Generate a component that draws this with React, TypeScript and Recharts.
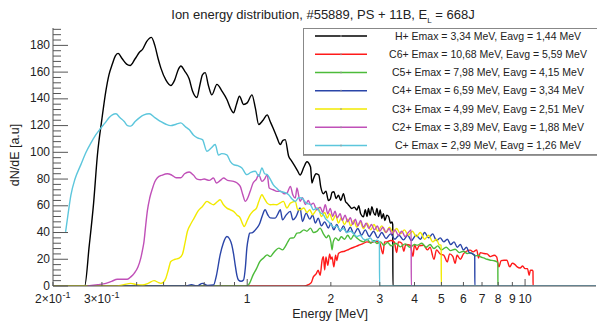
import React from "react";
import { LineChart, Line, XAxis, YAxis, Legend } from "recharts";

const FONT = '"Liberation Sans", Arial, Helvetica, sans-serif';

type Pt = [number, number];

// energy [MeV], dN/dE [a.u]
const hPlus: Pt[] = [
  [0.2, 0], [0.26, 0], [0.27, 30], [0.28, 62], [0.289, 98], [0.3, 125], [0.31, 146], [0.318, 158],
  [0.327, 166], [0.335, 172], [0.343, 174], [0.355, 170], [0.368, 166], [0.379, 165], [0.395, 170],
  [0.41, 175], [0.42, 177], [0.435, 183], [0.452, 186], [0.465, 180], [0.478, 170], [0.489, 163],
  [0.51, 154], [0.531, 150], [0.548, 154], [0.565, 162], [0.577, 164.6], [0.595, 161], [0.618, 155],
  [0.635, 146], [0.659, 141], [0.675, 150], [0.69, 158], [0.706, 159.6], [0.725, 150], [0.746, 143],
  [0.778, 150.8], [0.811, 145.8], [0.845, 139.5], [0.87, 133], [0.893, 129.6], [0.915, 136], [0.938, 142],
  [0.97, 135.8], [1.0, 137], [1.04, 143], [1.07, 133], [1.1, 120.8], [1.14, 124], [1.18, 128], [1.21, 123],
  [1.24, 118], [1.28, 111], [1.315, 105.8], [1.345, 109], [1.37, 109.5], [1.41, 97], [1.44, 94], [1.48, 90],
  [1.52, 86], [1.55, 83], [1.6, 89], [1.64, 93], [1.69, 89], [1.71, 77], [1.73, 80], [1.77, 84], [1.81, 83],
  [1.84, 74], [1.88, 69], [1.92, 71], [1.96, 64], [1.99, 65], [2.02, 70], [2.05, 70.5], [2.09, 65.5],
  [2.13, 68], [2.17, 64], [2.22, 69], [2.26, 63], [2.29, 61.8], [2.33, 60], [2.38, 58], [2.43, 59],
  [2.48, 56.8], [2.52, 60], [2.56, 54], [2.62, 51.8], [2.66, 57], [2.7, 52], [2.73, 58], [2.77, 53],
  [2.81, 59.3], [2.85, 55], [2.89, 53], [2.93, 58], [2.97, 52], [3.01, 56.8], [3.05, 50.5], [3.09, 54],
  [3.13, 49], [3.18, 53], [3.23, 51.8], [3.28, 47], [3.32, 48], [3.34, 46], [3.345, 0], [18, 0],
];

const c6Plus: Pt[] = [
  [0.2, 0], [1.6, 0], [1.66, 1], [1.7, 2.5], [1.73, 6.8], [1.77, 9], [1.8, 11.8], [1.83, 8], [1.86, 19.3],
  [1.88, 22], [1.9, 12], [1.92, 21.8], [1.95, 15.5], [1.98, 24], [2.0, 20], [2.02, 21.8], [2.05, 14.3],
  [2.08, 23], [2.1, 19], [2.13, 24.3], [2.18, 25.5], [2.24, 26], [2.3, 27], [2.35, 28], [2.42, 29],
  [2.52, 30.5], [2.6, 31.5], [2.7, 33], [2.8, 32.5], [2.9, 33.5], [3.0, 32], [3.08, 24], [3.12, 33],
  [3.18, 33], [3.28, 34], [3.38, 33], [3.45, 25], [3.5, 33], [3.6, 32], [3.66, 26], [3.72, 31], [3.86, 30.5],
  [3.95, 22], [4.0, 31], [4.08, 27], [4.15, 30], [4.32, 30.5], [4.45, 27], [4.55, 29], [4.7, 20], [4.8, 27],
  [4.95, 24], [5.1, 23], [5.25, 18], [5.35, 24], [5.5, 22], [5.6, 17], [5.69, 23], [5.85, 20], [6.0, 24],
  [6.15, 26], [6.35, 26.8], [6.5, 25.5], [6.7, 27], [6.8, 21], [6.9, 25], [7.11, 24.3], [7.3, 24], [7.5, 22],
  [7.74, 23], [7.9, 21.8], [8.05, 14.3], [8.2, 19], [8.4, 19.3], [8.6, 19.3], [8.8, 14.3], [9.0, 17],
  [9.2, 16], [9.37, 14.3], [9.6, 13.5], [9.8, 15], [10.0, 13], [10.2, 13], [10.35, 8], [10.45, 11.8],
  [10.6, 11.8], [10.68, 11], [10.685, 0], [18, 0],
];

const c5Plus: Pt[] = [
  [0.2, 0], [1.0, 0], [1.025, 3], [1.05, 8.3], [1.08, 13], [1.11, 18.3], [1.145, 21], [1.18, 23.3],
  [1.21, 22], [1.24, 24.5], [1.27, 27], [1.3, 28.3], [1.34, 27], [1.37, 29.5], [1.4, 33], [1.43, 35.8],
  [1.47, 36], [1.51, 39.5], [1.55, 40], [1.6, 42], [1.64, 41], [1.69, 43.3], [1.73, 40], [1.78, 40.8],
  [1.83, 43.3], [1.88, 39], [1.93, 36], [1.96, 38], [2.0, 33], [2.02, 27], [2.04, 33], [2.08, 36],
  [2.13, 34], [2.18, 36.8], [2.24, 35], [2.3, 38], [2.36, 35], [2.42, 38], [2.48, 36], [2.55, 34],
  [2.62, 33], [2.7, 35], [2.78, 32], [2.86, 34], [2.93, 31.8], [3.02, 33], [3.1, 30.5], [3.2, 32.5],
  [3.3, 30], [3.42, 32], [3.56, 29.3], [3.7, 31.5], [3.85, 29], [4.0, 31], [4.09, 30.5], [4.25, 32],
  [4.4, 29], [4.55, 31], [4.7, 28], [4.85, 30], [5.0, 27], [5.2, 29], [5.39, 26.5], [5.6, 27.5],
  [5.8, 25], [6.0, 26], [6.19, 24.3], [6.4, 24.8], [6.6, 22.5], [6.8, 23], [6.92, 21.8], [7.1, 21],
  [7.3, 20], [7.5, 19.3], [7.7, 19], [7.93, 18], [7.98, 17], [7.985, 0], [18, 0],
];

const c4Plus: Pt[] = [
  [0.2, 0], [0.6, 0], [0.63, 1], [0.66, 0], [0.69, 2], [0.72, 0.5], [0.756, 0.7], [0.775, 8], [0.799, 23.3],
  [0.82, 32], [0.845, 37], [0.865, 35], [0.88, 30.8], [0.893, 24], [0.905, 15.8], [0.918, 8], [0.93, 4.5],
  [0.95, 3.5], [0.97, 4.5], [0.985, 14], [0.997, 28.3], [1.01, 36], [1.02, 39.5], [1.045, 40], [1.07, 42],
  [1.09, 44], [1.11, 47], [1.135, 53], [1.16, 57], [1.185, 53.3], [1.21, 51], [1.26, 50.8], [1.29, 54],
  [1.315, 57], [1.34, 49.5], [1.38, 53], [1.43, 55.8], [1.46, 49.5], [1.5, 52], [1.55, 58.3], [1.58, 48.3],
  [1.63, 54.5], [1.68, 50], [1.72, 53], [1.76, 47], [1.8, 50.8], [1.85, 45], [1.9, 48], [1.96, 43.3],
  [2.0, 47], [2.05, 42], [2.1, 46], [2.16, 41], [2.22, 45], [2.28, 40], [2.35, 44], [2.42, 39], [2.5, 43],
  [2.58, 38], [2.66, 42], [2.75, 37], [2.85, 41], [2.95, 36], [3.05, 40], [3.16, 35.5], [3.28, 39],
  [3.4, 35], [3.52, 38], [3.65, 34.5], [3.78, 38], [3.9, 34], [4.05, 38], [4.2, 35], [4.35, 40], [4.5, 36],
  [4.65, 39], [4.8, 34], [4.95, 36], [5.1, 33], [5.25, 35], [5.4, 31], [5.55, 33], [5.7, 29], [5.85, 31],
  [6.0, 27], [6.15, 29], [6.3, 25], [6.45, 24.3], [6.59, 23], [6.595, 0], [18, 0],
];

const c3Plus: Pt[] = [
  [0.2, 0], [0.34, 0], [0.36, 1], [0.381, 2], [0.4, 1], [0.42, 0.7], [0.44, 2], [0.462, 4], [0.48, 2.5],
  [0.489, 2], [0.5, 3], [0.51, 6], [0.52, 12], [0.531, 18.3], [0.55, 20], [0.569, 20.8], [0.585, 24],
  [0.597, 32], [0.609, 40.8], [0.625, 46], [0.644, 50.8], [0.665, 56], [0.69, 59.5], [0.716, 63.3],
  [0.735, 62], [0.756, 60.8], [0.78, 63], [0.799, 64.5], [0.82, 61], [0.845, 58.3], [0.87, 57],
  [0.893, 55.8], [0.92, 53], [0.944, 50.8], [0.96, 47], [0.975, 44.5], [1.0, 49], [1.025, 53.3],
  [1.05, 56], [1.08, 58.3], [1.1, 63], [1.13, 68.3], [1.15, 65.8], [1.18, 62], [1.21, 60.8], [1.24, 61],
  [1.28, 60.8], [1.31, 62], [1.35, 63.3], [1.39, 58.3], [1.43, 62], [1.49, 63.3], [1.52, 57], [1.55, 57],
  [1.6, 58.3], [1.64, 55], [1.68, 57], [1.72, 53.3], [1.76, 56], [1.8, 58.3], [1.85, 52], [1.9, 55],
  [1.94, 50.8], [1.98, 54], [2.03, 49], [2.08, 53], [2.13, 47], [2.18, 51], [2.24, 46], [2.3, 50],
  [2.36, 45], [2.42, 49], [2.48, 44], [2.55, 48], [2.62, 43], [2.7, 47], [2.78, 42], [2.86, 46],
  [2.95, 41], [3.05, 45], [3.15, 40], [3.25, 44], [3.35, 40], [3.45, 43], [3.56, 39], [3.68, 42],
  [3.8, 38], [3.93, 41], [4.06, 37], [4.2, 40], [4.35, 35], [4.5, 38], [4.65, 33], [4.8, 35], [4.9, 31],
  [4.99, 30.5], [4.995, 0], [18, 0],
];

const c2Plus: Pt[] = [
  [0.266, 0], [0.29, 1], [0.31, 2], [0.325, 3.5], [0.341, 5], [0.355, 5], [0.37, 5], [0.382, 7],
  [0.392, 9.5], [0.404, 14], [0.414, 20.8], [0.42, 27], [0.425, 33], [0.431, 45], [0.437, 56], [0.446, 66],
  [0.456, 73], [0.465, 78], [0.475, 81], [0.495, 83], [0.516, 84], [0.535, 83], [0.555, 81], [0.577, 81],
  [0.595, 84], [0.618, 85.3], [0.64, 83], [0.66, 80], [0.681, 79.5], [0.7, 80], [0.73, 79], [0.756, 80.8],
  [0.775, 77], [0.8, 79], [0.822, 80.8], [0.85, 79], [0.893, 78.3], [0.92, 77], [0.944, 74.5], [0.965, 68],
  [0.984, 63.3], [1.005, 66], [1.025, 70.8], [1.05, 77], [1.08, 80], [1.1, 83.3], [1.13, 78.3], [1.155, 80],
  [1.18, 83.3], [1.2, 73.3], [1.24, 72], [1.28, 70.8], [1.32, 71], [1.36, 69], [1.39, 69.5], [1.43, 74.5],
  [1.46, 68], [1.49, 65.8], [1.51, 73.3], [1.55, 63.3], [1.58, 66], [1.62, 61], [1.66, 64], [1.69, 60.8],
  [1.73, 62], [1.78, 57], [1.83, 59], [1.87, 55], [1.91, 60.8], [1.95, 54], [1.99, 58], [2.03, 52],
  [2.07, 56], [2.11, 51], [2.16, 54], [2.2, 49], [2.25, 53], [2.3, 48], [2.35, 51], [2.4, 46], [2.45, 50],
  [2.5, 45], [2.56, 49], [2.62, 44], [2.68, 47], [2.74, 43], [2.8, 46], [2.87, 42], [2.94, 45], [3.0, 41],
  [3.08, 44], [3.16, 40], [3.24, 43], [3.32, 39], [3.4, 42], [3.5, 38], [3.6, 41], [3.7, 37], [3.8, 40],
  [3.89, 42], [3.895, 0], [18, 0],
];

const cPlus: Pt[] = [
  [0.222, 40.5], [0.227, 55], [0.232, 68], [0.24, 80], [0.252, 90.8], [0.263, 100], [0.274, 107],
  [0.285, 113], [0.297, 118], [0.308, 122], [0.318, 125.8], [0.327, 128], [0.337, 128.8], [0.348, 126],
  [0.361, 123], [0.371, 120], [0.381, 119.6], [0.395, 123], [0.409, 125.8], [0.425, 128], [0.444, 128.8],
  [0.465, 126], [0.489, 123], [0.51, 121], [0.531, 120], [0.555, 121], [0.577, 122], [0.6, 119],
  [0.618, 117], [0.64, 113], [0.662, 110.8], [0.69, 109.5], [0.716, 100.8], [0.74, 103], [0.767, 105.8],
  [0.788, 98], [0.81, 99], [0.845, 98], [0.87, 93], [0.893, 90.8], [0.925, 90], [0.957, 88.3],
  [0.997, 83.3], [1.03, 85], [1.07, 85.8], [1.1, 82], [1.13, 88.3], [1.155, 84], [1.18, 83.3], [1.21, 80],
  [1.24, 75.8], [1.28, 73], [1.315, 70.8], [1.36, 70], [1.41, 68.3], [1.45, 65], [1.49, 63.3], [1.53, 66],
  [1.57, 65.8], [1.63, 62], [1.69, 60.8], [1.73, 57], [1.78, 58.3], [1.83, 55], [1.88, 53.3], [1.92, 50],
  [1.96, 48.3], [2.0, 46], [2.05, 44], [2.1, 45], [2.16, 41.8], [2.22, 43], [2.28, 40], [2.35, 41],
  [2.41, 39.3], [2.48, 37], [2.55, 38], [2.62, 35], [2.7, 34.3], [2.77, 36], [2.85, 33], [2.93, 34.3],
  [2.99, 33], [2.995, 0], [18, 0],
];

const seriesNames = [
  "H+ Emax = 3,34 MeV, Eavg = 1,44 MeV",
  "C6+ Emax = 10,68 MeV, Eavg = 5,59 MeV",
  "C5+ Emax = 7,98 MeV, Eavg = 4,15 MeV",
  "C4+ Emax = 6,59 MeV, Eavg = 3,34 MeV",
  "C3+ Emax = 4,99 MeV, Eavg = 2,51 MeV",
  "C2+ Emax = 3,89 MeV, Eavg = 1,88 MeV",
  "C+ Emax = 2,99 MeV, Eavg = 1,26 MeV",
];
const seriesData = [hPlus, c6Plus, c5Plus, c4Plus, c3Plus, c2Plus, cPlus];
const seriesColors = ["#000000", "#ff1a1a", "#4cbb3a", "#2a45a8", "#f2ea00", "#c050b8", "#5cc6dc"];

const xTicks = [0.2, 0.3, 0.4, 0.5, 0.6, 0.7, 0.8, 0.9, 1, 2, 3, 4, 5, 6, 7, 8, 9, 10];
const xTickLabels = ["2×10^-1", "3×10^-1", "", "", "", "", "", "", "1", "2", "3", "4", "5", "6", "7", "8", "9", "10"];
const yMajor = [0, 20, 40, 60, 80, 100, 120, 140, 160, 180];
const yTicks = Array.from({ length: 49 }, (_, i) => i * 4);

const AXIS = "#555";

function XTick({ x, y, payload }: any) {
  const v = payload.value;
  const label = xTickLabels[xTicks.indexOf(v)] || "";
  const len = v === 1 || v === 10 ? 7 : 4;
  const [base, exp] = label.split("^");
  return (
    <g>
      <line x1={x} x2={x} y1={y} y2={y - len} stroke={AXIS} />
      {label && !exp && (
        <text x={x} y={y + 17} textAnchor="middle" fontSize={12} fill="#222" fontFamily={FONT}>
          {base}
        </text>
      )}
      {exp && (
        <>
          <text x={x + 9} y={y + 17} textAnchor="end" fontSize={12} fill="#222" fontFamily={FONT}>
            {base}
          </text>
          <text x={x + 9.5} y={y + 12} textAnchor="start" fontSize={9} fill="#222" fontFamily={FONT}>
            {exp}
          </text>
        </>
      )}
    </g>
  );
}

function YTick({ x, y, payload }: any) {
  const v = payload.value;
  const major = yMajor.includes(v);
  const ax = x + 3;
  return (
    <g>
      <line x1={ax} x2={ax + (major ? 15 : 8)} y1={y} y2={y} stroke={AXIS} />
      {major && (
        <text x={x} y={y} dy="0.3em" textAnchor="end" fontSize={12} fill="#222" fontFamily={FONT}>
          {v}
        </text>
      )}
    </g>
  );
}

function LegendBox() {
  return (
    <div
      style={{
        width: 300,
        height: 127,
        boxSizing: "border-box",
        border: "1px solid #888",
        boxShadow: "0 1px 0 #999",
        background: "#fff",
      }}
    >
      <svg width={300} height={125} style={{ display: "block" }}>
        {seriesNames.map((name, i) => {
          const cy = 7 + i * 18.25;
          return (
            <g key={name}>
              <line x1={11} x2={63} y1={cy} y2={cy} stroke={seriesColors[i]} strokeWidth={1.5} />
              <line x1={37} x2={37} y1={cy - 1} y2={cy + 1} stroke="#999" />
              <text x={184} y={cy} dy="0.35em" textAnchor="middle" fontSize={10.5} fill="#222" fontFamily={FONT}>
                {name}
              </text>
            </g>
          );
        })}
      </svg>
    </div>
  );
}

export default function App() {
  return (
    <div
      style={{
        position: "absolute",
        left: 0,
        top: 0,
        width: 597,
        height: 325,
        overflow: "hidden",
        background: "#fff",
        fontFamily: FONT,
      }}
    >
      <LineChart width={597} height={325} margin={{ top: 28, right: 1, bottom: 0, left: 0 }}>
        <XAxis
          dataKey="e"
          type="number"
          scale="log"
          domain={[0.2, 18]}
          allowDataOverflow
          ticks={xTicks}
          interval={0}
          tick={<XTick />}
          tickLine={false}
          tickSize={0}
          tickMargin={0}
          height={39}
          axisLine={{ stroke: AXIS }}
        />
        <XAxis
          xAxisId="top"
          orientation="top"
          dataKey="e"
          type="number"
          scale="log"
          domain={[0.2, 18]}
          allowDataOverflow
          tick={false}
          tickLine={false}
          height={0}
          axisLine={{ stroke: "#999" }}
        />
        <YAxis
          type="number"
          domain={[0, 193]}
          allowDataOverflow
          ticks={yTicks}
          interval={0}
          tick={<YTick />}
          tickLine={false}
          tickSize={0}
          tickMargin={3}
          width={53}
          axisLine={{ stroke: AXIS }}
        />
        <Legend
          content={<LegendBox />}
          layout="vertical"
          align="center"
          verticalAlign="middle"
          wrapperStyle={{ left: 303, top: 28, width: 300 }}
        />
        {seriesData.map((pts, i) => (
          <Line
            key={seriesNames[i]}
            data={pts.map(([e, v]) => ({ e, v }))}
            dataKey="v"
            name={seriesNames[i]}
            type="monotone"
            stroke={seriesColors[i]}
            strokeWidth={1.4}
            dot={false}
            activeDot={false}
            isAnimationActive={false}
          />
        ))}
        <text x={323} y={19} textAnchor="middle" fontSize={13} fill="#222" fontFamily={FONT}>
          Ion energy distribution, #55889, PS + 11B, E
          <tspan dy={4} fontSize={8}>L</tspan>
          <tspan dy={-4}> = 668J</tspan>
        </text>
        <text transform="translate(19,155) rotate(-90)" textAnchor="middle" fontSize={12.5} fill="#222" fontFamily={FONT}>
          dN/dE [a.u]
        </text>
        <text x={368} y={318} textAnchor="end" fontSize={12.5} fill="#222" fontFamily={FONT}>
          Energy [MeV]
        </text>
      </LineChart>
    </div>
  );
}
